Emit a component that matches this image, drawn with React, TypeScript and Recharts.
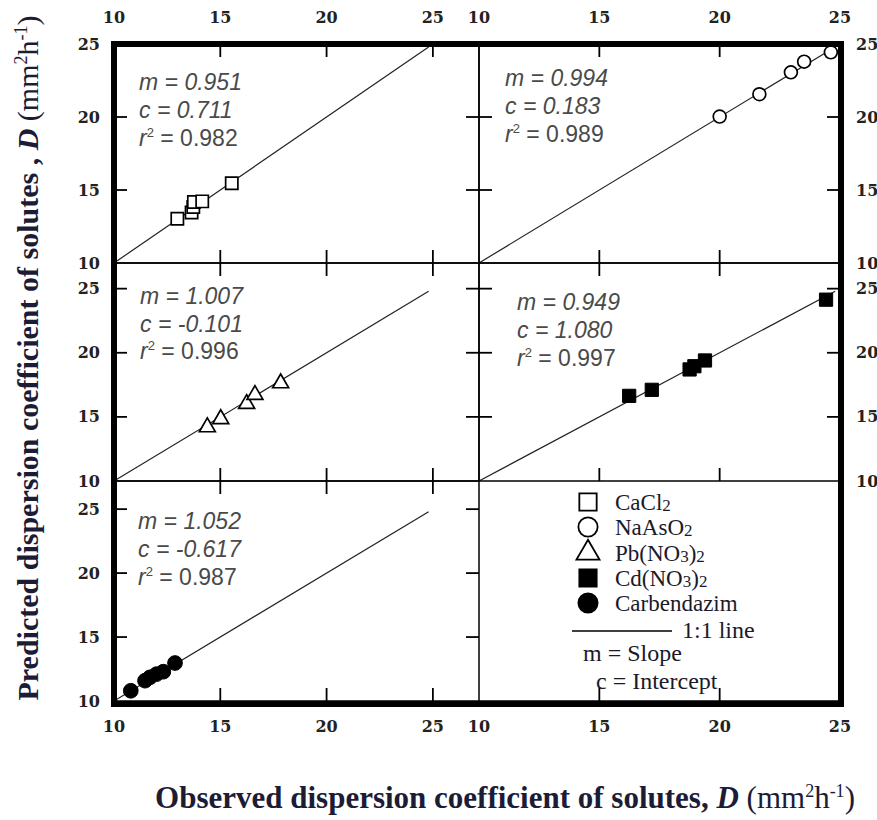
import { ScatterChart, Scatter, XAxis, YAxis, ReferenceLine, Symbols } from 'recharts'

// shared axis ticks and ranges
const ticks = [10, 15, 20, 25]
const colDomains: [number, number][] = [[10, 27.17], [10, 25]]
const rowDomains: [number, number][] = [[10, 25], [10, 27], [10, 27.2]]
const oneToOne = [10, 24.8]

// observed (x) vs predicted (y) dispersion coefficients
const cacl2Obs = [12.98, 13.65, 13.73, 13.76, 14.15, 15.54]
const cacl2Pred = [13.03, 13.46, 13.83, 14.18, 14.22, 15.46]
const naasoObs = [20.0, 21.65, 22.96, 23.51, 24.62]
const naasoPred = [20.03, 21.56, 23.06, 23.79, 24.43]
const pbObs = [14.39, 15.02, 16.24, 16.63, 17.84]
const pbPred = [14.2, 14.84, 16.02, 16.72, 17.63]
const cdObs = [16.24, 17.18, 18.75, 18.95, 19.39, 24.42]
const cdPred = [16.64, 17.11, 18.7, 18.95, 19.4, 24.14]
const carbObs = [10.79, 11.46, 11.69, 12.0, 12.32, 12.87]
const carbPred = [10.8, 11.59, 11.85, 12.1, 12.29, 12.97]

const soluteNames = ['CaCl2', 'NaAsO2', 'Pb(NO3)2', 'Cd(NO3)2', 'Carbendazim']
const slopes = ['0.951', '0.994', '1.007', '0.949', '1.052']
const intercepts = ['0.711', '0.183', '-0.101', '1.080', '-0.617']
const rSquared = ['0.982', '0.989', '0.996', '0.997', '0.987']

// layout (page pixels)
const X_EDGES = [114, 479, 840]
const Y_EDGES = [44, 263, 481, 701]
const M = 50
const TICK = 13
const GAP = { top: 21, bottom: 20, left: 14, right: 16 }

const toPoints = (xs: number[], ys: number[]) => xs.map((x, i) => ({ x, y: ys[i] }))

type Side = 'label' | 'tick' | 'none'
type Orient = 'top' | 'bottom' | 'left' | 'right'
type Sides = { top: Side; right: Side; bottom: Side; left: Side }
type Marker = { shape: 'square' | 'circle' | 'triangle'; filled: boolean; size: number }

const markers: Marker[] = [
  { shape: 'square', filled: false, size: 150 },
  { shape: 'circle', filled: false, size: 130 },
  { shape: 'triangle', filled: false, size: 110 },
  { shape: 'square', filled: true, size: 175 },
  { shape: 'circle', filled: true, size: 170 },
]

const seriesData = [
  toPoints(cacl2Obs, cacl2Pred),
  toPoints(naasoObs, naasoPred),
  toPoints(pbObs, pbPred),
  toPoints(cdObs, cdPred),
  toPoints(carbObs, carbPred),
]

// panel grid: which sides get tick marks / labels
const panelDefs: { col: number; row: number; index?: number; sides: Sides }[] = [
  { col: 0, row: 0, index: 0, sides: { top: 'label', right: 'tick', bottom: 'tick', left: 'label' } },
  { col: 1, row: 0, index: 1, sides: { top: 'label', right: 'label', bottom: 'tick', left: 'tick' } },
  { col: 0, row: 1, index: 2, sides: { top: 'tick', right: 'tick', bottom: 'tick', left: 'label' } },
  { col: 1, row: 1, index: 3, sides: { top: 'tick', right: 'label', bottom: 'tick', left: 'tick' } },
  { col: 0, row: 2, index: 4, sides: { top: 'tick', right: 'tick', bottom: 'label', left: 'label' } },
  { col: 1, row: 2, sides: { top: 'none', right: 'none', bottom: 'label', left: 'none' } },
]

// annotation anchors: [x, first baseline, line gap]
const notePos = [
  [139, 90, 28],
  [505, 86, 28],
  [140, 304, 27.5],
  [517, 310, 28],
  [138, 529, 28],
]

const axisLine = { stroke: '#000', strokeWidth: 1.5 }
const tickFont = { fontFamily: 'DejaVu Serif', fontWeight: 'bold' as const, fontSize: 16, fill: '#222' }

function TickLabel(props: any) {
  const { x, y, payload, orient } = props
  if (orient === 'bottom') return <text x={x} y={y} dy="0.71em" textAnchor="middle" {...tickFont}>{payload.value}</text>
  if (orient === 'top') return <text x={x} y={y} textAnchor="middle" {...tickFont}>{payload.value}</text>
  if (orient === 'left') return <text x={x} y={y} dy="0.35em" textAnchor="end" {...tickFont}>{payload.value}</text>
  return <text x={x} y={y} dy="0.35em" textAnchor="start" {...tickFont}>{payload.value}</text>
}

function Panel({ col, row, sides, index }: { col: number; row: number; sides: Sides; index?: number }) {
  const x0 = X_EDGES[col]
  const x1 = X_EDGES[col + 1]
  const y0 = Y_EDGES[row]
  const y1 = Y_EDGES[row + 1]
  const [xMin, xMax] = colDomains[col]
  const [yMin, yMax] = rowDomains[row]
  const tx = (TICK * (xMax - xMin)) / (x1 - x0) // tick length in x units
  const ty = (TICK * (yMax - yMin)) / (y1 - y0) // tick length in y units
  const m = index !== undefined ? markers[index] : null

  const axisProps = (orient: Orient) => {
    const side = sides[orient]
    return {
      ticks,
      interval: 0 as const,
      tickSize: 0,
      tickMargin: GAP[orient],
      tickLine: false,
      tick: side === 'label' ? (p: any) => <TickLabel {...p} orient={orient} /> : false,
      axisLine: side === 'none' ? false : axisLine,
      allowDataOverflow: true,
      type: 'number' as const,
    }
  }

  // inward tick marks as short segments on the panel's own scales
  const xs = ticks.filter((t) => t > xMin && t < xMax)
  const ys = ticks.filter((t) => t > yMin && t < yMax)
  const tickSegs: { x: number; y: number }[][] = []
  if (sides.bottom !== 'none') xs.forEach((t) => tickSegs.push([{ x: t, y: yMin }, { x: t, y: yMin + ty }]))
  if (sides.top !== 'none') xs.forEach((t) => tickSegs.push([{ x: t, y: yMax }, { x: t, y: yMax - ty }]))
  if (sides.left !== 'none') ys.forEach((t) => tickSegs.push([{ x: xMin, y: t }, { x: xMin + tx, y: t }]))
  if (sides.right !== 'none') ys.forEach((t) => tickSegs.push([{ x: xMax, y: t }, { x: xMax - tx, y: t }]))

  const renderMarker = (p: any) =>
    m ? (
      <Symbols
        type={m.shape}
        size={m.size}
        cx={p.cx}
        cy={p.cy}
        fill={m.filled ? '#000' : '#fff'}
        stroke="#000"
        strokeWidth={m.filled ? 1 : 1.7}
      />
    ) : (
      <g />
    )

  return (
    <div style={{ position: 'absolute', left: x0 - M, top: y0 - M }}>
      <ScatterChart
        width={x1 - x0 + 2 * M}
        height={y1 - y0 + 2 * M}
        margin={{ top: 0, right: 0, bottom: 0, left: 0 }}
      >
        <XAxis xAxisId="b" orientation="bottom" dataKey="x" domain={colDomains[col]} height={M} {...axisProps('bottom')} />
        <XAxis xAxisId="t" orientation="top" dataKey="x" domain={colDomains[col]} height={M} {...axisProps('top')} />
        <YAxis yAxisId="l" orientation="left" dataKey="y" domain={rowDomains[row]} width={M} {...axisProps('left')} />
        <YAxis yAxisId="r" orientation="right" dataKey="y" domain={rowDomains[row]} width={M} {...axisProps('right')} />
        {tickSegs.map((seg, i) => (
          <ReferenceLine key={`tk-${i}`} xAxisId="b" yAxisId="l" segment={seg} stroke="#000" strokeWidth={1.8} ifOverflow="visible" />
        ))}
        {m && (
          <ReferenceLine
            xAxisId="b"
            yAxisId="l"
            segment={[{ x: oneToOne[0], y: oneToOne[0] }, { x: oneToOne[1], y: oneToOne[1] }]}
            stroke="#222"
            strokeWidth={1.2}
          />
        )}
        <Scatter
          xAxisId="b"
          yAxisId="l"
          data={index !== undefined ? seriesData[index] : []}
          shape={renderMarker}
          isAnimationActive={false}
        />
      </ScatterChart>
    </div>
  )
}

function Formula({ text }: { text: string }) {
  const parts = text.split(/(\d)/).filter((p) => p !== '')
  return (
    <>
      {parts.map((p, i) =>
        /\d/.test(p) ? (
          <tspan key={i} fontSize={17} dy={1}>{p}</tspan>
        ) : (
          <tspan key={i} dy={i > 0 && /\d/.test(parts[i - 1]) ? -1 : 0}>{p}</tspan>
        )
      )}
    </>
  )
}

const legendRows = [502, 527, 553, 578, 603]

export default function App() {
  return (
    <div style={{ position: 'absolute', left: 0, top: 0, width: 877, height: 820, background: '#fff' }}>
      {panelDefs.map((p, i) => (
        <Panel key={i} col={p.col} row={p.row} index={p.index} sides={p.sides} />
      ))}

      {/* thick outer frame */}
      <div
        style={{
          position: 'absolute',
          left: 111,
          top: 41,
          width: 733,
          height: 666,
          border: '6px solid #000',
          boxSizing: 'border-box',
        }}
      />

      <svg width={877} height={820} style={{ position: 'absolute', left: 0, top: 0, pointerEvents: 'none' }}>
        {/* fit statistics */}
        {notePos.map(([x, y, gap], i) => (
          <g key={i} fontFamily="Liberation Sans, Arial, sans-serif" fontSize={23} fill="#4a4a4a">
            <text x={x} y={y} fontStyle="italic">m = {slopes[i]}</text>
            <text x={x} y={y + gap} fontStyle="italic">c = {intercepts[i]}</text>
            <text x={x} y={y + gap * 2}>
              <tspan fontStyle="italic">r</tspan>
              <tspan fontSize={13} dy={-9}>2</tspan>
              <tspan dy={9}>{' = ' + rSquared[i]}</tspan>
            </text>
          </g>
        ))}

        {/* legend */}
        {soluteNames.map((name, i) => {
          const mk = markers[i]
          return (
            <g key={name}>
              <Symbols
                type={mk.shape}
                size={mk.shape === 'triangle' ? 230 : mk.shape === 'circle' ? 290 : 300}
                cx={588}
                cy={legendRows[i]}
                fill={mk.filled ? '#000' : '#fff'}
                stroke="#000"
                strokeWidth={1.8}
              />
              <text x={615} y={legendRows[i] + 8} fontFamily="Liberation Serif, serif" fontSize={23} fill="#1a1a2a">
                <Formula text={name} />
              </text>
            </g>
          )
        })}
        <line x1={572} y1={631} x2={672} y2={631} stroke="#000" strokeWidth={1.5} />
        <g fontFamily="Liberation Serif, serif" fontSize={24} fill="#1a1a2a">
          <text x={682} y={638}>1:1 line</text>
          <text x={583} y={661}>m = Slope</text>
          <text x={596} y={689}>c = Intercept</text>
        </g>

        {/* axis titles */}
        <text
          transform="translate(38,358) rotate(-90)"
          textAnchor="middle"
          fontFamily="Liberation Serif, serif"
          fontWeight="bold"
          fontSize={30}
          fill="#1c1c36"
        >
          Predicted dispersion coefficient of solutes ,{' '}
          <tspan fontStyle="italic">D</tspan>
          <tspan fontWeight="normal">{' (mm'}</tspan>
          <tspan fontWeight="normal" fontSize={18} dy={-11}>2</tspan>
          <tspan fontWeight="normal" dy={11}>h</tspan>
          <tspan fontWeight="normal" fontSize={18} dy={-11}>-1</tspan>
          <tspan fontWeight="normal" dy={11}>)</tspan>
        </text>
        <text
          x={505}
          y={808}
          textAnchor="middle"
          fontFamily="Liberation Serif, serif"
          fontWeight="bold"
          fontSize={31}
          fill="#1c1c36"
        >
          Observed dispersion coefficient of solutes,{'  '}
          <tspan fontStyle="italic">D</tspan>
          <tspan fontWeight="normal">{' (mm'}</tspan>
          <tspan fontWeight="normal" fontSize={18} dy={-11}>2</tspan>
          <tspan fontWeight="normal" dy={11}>h</tspan>
          <tspan fontWeight="normal" fontSize={18} dy={-11}>-1</tspan>
          <tspan fontWeight="normal" dy={11}>)</tspan>
        </text>
      </svg>
    </div>
  )
}
